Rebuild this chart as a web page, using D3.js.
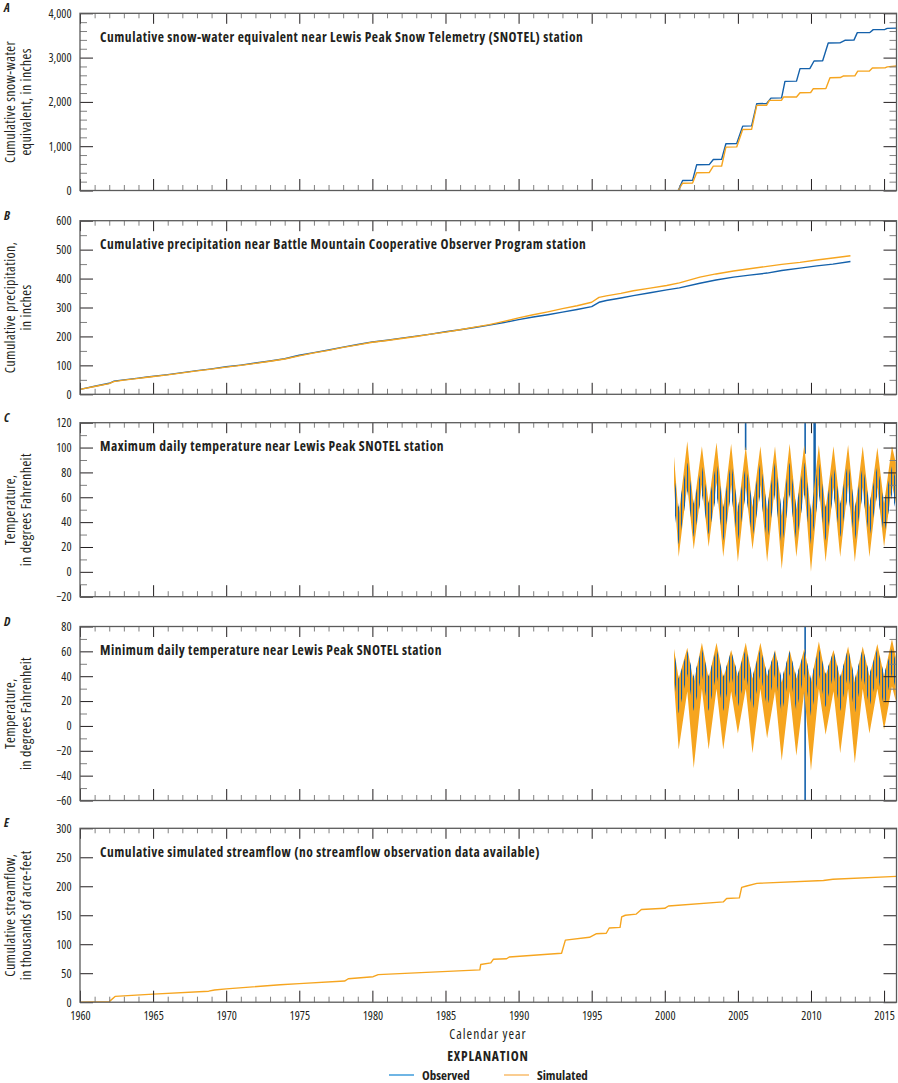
<!DOCTYPE html>
<html>
<head>
<meta charset="utf-8">
<script src="https://cdn.jsdelivr.net/npm/d3@7/dist/d3.min.js"></script>
<style>
  body { margin: 0; background: #fff; }
  svg text { font-family: "Open Sans", "DejaVu Sans Condensed", sans-serif; font-stretch: 75%; fill: #231f20; }
</style>
</head>
<body>
<svg id="chart" width="898" height="1083"></svg>
<script>
// ---- data ----
// x axis: calendar year
const yearDomain = [1960, 2015.85];
const yearLabels = d3.range(1960, 2016, 5);

// A: cumulative SWE, inches  [year, value]
const sweObserved = [[2000.92,0],[2001.22,226],[2001.9,230],[2002.18,580],[2003.04,585],[2003.32,700],[2003.89,705],
  [2004.18,1055],[2004.92,1060],[2005.33,1453],[2005.94,1458],[2006.29,1959],[2006.97,1965],[2007.26,2086],[2007.99,2090],
  [2008.22,2463],[2009.01,2468],[2009.25,2750],[2009.93,2755],[2010.21,2923],[2010.8,2928],[2011.18,3329],[2011.98,3333],
  [2012.32,3390],[2012.94,3395],[2013.17,3563],[2014.03,3568],[2014.26,3631],[2015.06,3635],[2015.22,3660],[2015.85,3665]];
const sweSimulated = [[2000.92,0],[2001.22,165],[2001.9,168],[2002.18,400],[2003.04,405],[2003.32,550],[2003.89,553],
  [2004.18,980],[2004.92,984],[2005.33,1378],[2005.94,1382],[2006.29,1921],[2006.97,1925],[2007.15,2034],[2007.99,2038],
  [2008.12,2109],[2009.01,2112],[2009.25,2208],[2009.98,2212],[2010.16,2298],[2011.02,2302],[2011.3,2546],[2012.0,2550],
  [2012.2,2583],[2013.0,2587],[2013.2,2695],[2014.0,2699],[2014.2,2764],[2015.06,2767],[2015.22,2790],[2015.85,2810]];

// B: cumulative precipitation, inches
const precipObserved = [[1960,17],[1961,28],[1962,38],[1962.3,45],[1963,50],[1964,56],[1964.6,60],[1966,68],[1967,75],
  [1968,82],[1969,88],[1970,95],[1971,101],[1972,108],[1973,115],[1974,123],[1975,135],[1976,144],[1977,153],[1978,163],
  [1979,172],[1980,181],[1981,187],[1982,194],[1983,201],[1984,208],[1985,216],[1986,223],[1987,231],[1988,239],[1989,248],
  [1990,258],[1991,267],[1992,275],[1993,284],[1994,293],[1995,303],[1995.5,318],[1996,324],[1997,333],[1997.85,341],
  [1999,351],[2000.13,361],[2001,368],[2002.4,384],[2003.5,395],[2004.7,405],[2005.8,412],[2007,419],[2008,428],
  [2009.25,436],[2010.4,444],[2011.5,450],[2012.7,459]];
const precipSimulated = [[1960,17],[1961,27],[1962,37],[1962.3,44],[1963,49],[1964,55],[1964.6,59],[1966,67],[1967,74],
  [1968,81],[1969,87],[1970,94],[1971,100],[1972,107],[1973,114],[1974,122],[1975,133],[1976,143],[1977,152],[1978,162],
  [1979,171],[1980,180],[1981,186],[1982,193],[1983,200],[1984,208],[1985,215],[1986,223],[1987,232],[1988,241],[1989,252],
  [1990,264],[1991,275],[1992,285],[1993,296],[1994,306],[1995,318],[1995.5,335],[1996,340],[1997,349],[1997.85,358],
  [1999,367],[2000.13,376],[2001,385],[2002.4,405],[2003.5,416],[2004.7,426],[2005.8,434],[2007,442],[2008,449],
  [2009.25,456],[2010.4,464],[2011.5,471],[2012.7,479]];

// C: maximum daily temperature, deg F  [year, low, high] daily range envelope
const tmaxSimulated = [[2000.63,70,93],[2000.95,12,45],[2001.54,70,105],[2001.98,18,52],[2002.54,70,101],[2003.0,20,55],
  [2003.54,72,104],[2004.0,12,50],[2004.54,70,103],[2005.0,8,48],[2005.54,68,101],[2006.0,18,52],[2006.54,70,101],
  [2007.0,8,50],[2007.54,70,101],[2008.0,2,45],[2008.54,70,103],[2009.0,12,50],[2009.54,70,102],[2010.0,0,45],
  [2010.54,70,102],[2011.0,8,50],[2011.54,68,101],[2012.0,12,52],[2012.54,70,102],[2013.0,8,48],[2013.54,68,101],
  [2014.0,12,52],[2014.54,68,100],[2015.0,20,55],[2015.54,70,101],[2015.8,55,88]];
const tmaxObserved = [[2000.63,52,78],[2000.95,22,52],[2001.54,65,88],[2001.98,28,55],[2002.54,62,85],[2003.0,30,55],
  [2003.54,62,88],[2004.0,25,52],[2004.54,62,88],[2005.0,25,52],[2005.54,62,85],[2006.0,28,55],[2006.54,62,88],
  [2007.0,25,52],[2007.54,62,88],[2008.0,20,50],[2008.54,62,88],[2009.0,25,52],[2009.54,62,88],[2010.0,22,50],
  [2010.54,62,88],[2011.0,25,52],[2011.54,62,85],[2012.0,28,55],[2012.54,62,88],[2013.0,25,52],[2013.54,62,85],
  [2014.0,28,55],[2014.54,62,85],[2015.0,30,55],[2015.54,62,85],[2015.8,50,75]];
const tmaxObservedSpikes = [[2005.53,98,130],[2009.6,95,130],[2010.22,60,130],[2010.28,70,130]];

// D: minimum daily temperature, deg F
const tminSimulated = [[2000.63,35,62],[2000.95,-19,38],[2001.54,28,63],[2001.98,-34,35],[2002.54,30,67],[2003.0,-19,38],
  [2003.54,30,67],[2004.0,-19,38],[2004.54,28,61],[2005.0,-6,40],[2005.54,30,67],[2006.0,-22,38],[2006.54,30,67],
  [2007.0,-10,40],[2007.54,28,61],[2008.0,-28,35],[2008.54,28,61],[2009.0,-24,38],[2009.54,28,62],[2010.0,-36,35],
  [2010.54,30,68],[2011.0,-7,40],[2011.54,28,61],[2012.0,-22,38],[2012.54,30,64],[2013.0,-30,35],[2013.54,30,64],
  [2014.0,-6,40],[2014.54,30,66],[2015.0,-3,40],[2015.54,32,70],[2015.8,20,55]];
const tminObserved = [[2000.63,40,60],[2000.95,10,38],[2001.54,42,60],[2001.98,12,40],[2002.54,42,62],[2003.0,12,40],
  [2003.54,42,62],[2004.0,12,40],[2004.54,42,60],[2005.0,15,42],[2005.54,42,62],[2006.0,12,40],[2006.54,42,62],
  [2007.0,15,42],[2007.54,42,60],[2008.0,10,38],[2008.54,42,60],[2009.0,12,40],[2009.54,42,60],[2010.0,8,38],
  [2010.54,42,62],[2011.0,15,42],[2011.54,42,60],[2012.0,12,40],[2012.54,42,62],[2013.0,10,38],[2013.54,42,62],
  [2014.0,15,42],[2014.54,42,62],[2015.0,15,42],[2015.54,42,62],[2015.8,30,52]];
const tminObservedSpikes = [[2009.6,-70,90]];

// E: cumulative simulated streamflow, thousands of acre-feet
const flowSimulated = [[1960.0,0],[1962.0,1],[1962.4,10],[1965.0,14],[1968.8,19],[1969.2,21],[1970.0,23],[1973.7,30],
  [1975.0,32],[1978.1,36.5],[1978.35,40.5],[1980.05,44],[1980.4,47.5],[1987.35,55.7],[1987.41,65],[1988.1,67.8],
  [1988.27,74],[1989.18,75],[1989.36,78],[1992.94,84.5],[1993.2,107],[1994.85,112],[1995.3,118],[1996.0,119],
  [1996.2,128],[1996.94,129],[1997.05,147],[1997.3,150],[1998.05,152],[1998.4,160],[2000.0,162],[2000.25,166],
  [2004.0,173],[2004.23,179],[2005.1,180],[2005.26,198],[2005.6,200.5],[2006.3,205],[2010.85,210],[2011.5,212],
  [2015.85,217]];

const seriesNames = ["Observed", "Simulated"];

// ---- layout ----
const obsColor = "#1461ab", simColor = "#f6a51f";
const legendColors = ["#3f9cdb", "#f8bd6c"];
const svg = d3.select("#chart");
const x = d3.scaleLinear().domain(yearDomain).range([80, 896.5]);

const defs = svg.append("defs");
defs.append("pattern").attr("id", "obsStripe")
  .attr("patternUnits", "userSpaceOnUse").attr("width", 3).attr("height", 4)
  .append("rect").attr("width", 1.1).attr("height", 4).attr("fill", obsColor);

const panels = [
  {id: "A", top: 13.3, bottom: 190.5, domain: [0, 4000], major: 1000, minor: 200, fmt: d3.format(","),
   title: "Cumulative snow-water equivalent near Lewis Peak Snow Telemetry (SNOTEL) station",
   label: ["Cumulative snow-water", "equivalent, in inches"]},
  {id: "B", top: 220.7, bottom: 394.3, domain: [0, 600], major: 100, minor: 50, fmt: d3.format("d"),
   title: "Cumulative precipitation near Battle Mountain Cooperative Observer Program station",
   label: ["Cumulative precipitation,", "in inches"]},
  {id: "C", top: 422.7, bottom: 596.7, domain: [-20, 120], major: 20, minor: 10, fmt: d => d < 0 ? "\u2212" + (-d) : d,
   title: "Maximum daily temperature near Lewis Peak SNOTEL station",
   label: ["Temperature,", "in degrees Fahrenheit"]},
  {id: "D", top: 626.5, bottom: 800.5, domain: [-60, 80], major: 20, minor: 10, fmt: d => d < 0 ? "\u2212" + (-d) : d,
   title: "Minimum daily temperature near Lewis Peak SNOTEL station",
   label: ["Temperature,", "in degrees Fahrenheit"]},
  {id: "E", top: 828.3, bottom: 1002.2, domain: [0, 300], major: 50, minor: null, fmt: d3.format("d"),
   title: "Cumulative simulated streamflow (no streamflow observation data available)",
   label: ["Cumulative streamflow,", "in thousands of acre-feet"]}
];

panels.forEach((p, i) => {
  p.y = d3.scaleLinear().domain(p.domain).range([p.bottom, p.top]);
  const g = svg.append("g").attr("class", "panel-" + p.id);
  const x0 = x.range()[0], x1 = x.range()[1];

  // clip for the data
  defs.append("clipPath").attr("id", "clip" + p.id)
    .append("rect").attr("x", x0).attr("y", p.top).attr("width", x1 - x0).attr("height", p.bottom - p.top);
  p.plot = g.append("g").attr("clip-path", "url(#clip" + p.id + ")");

  const majors = d3.range(p.domain[0], p.domain[1] + 0.001, p.major);
  const minors = p.minor ? d3.range(p.domain[0], p.domain[1] + 0.001, p.minor).filter(v => v % p.major !== 0) : [];
  const yearsMajor = yearLabels;
  const yearsMinor = d3.range(1961, 2016).filter(v => v % 5 !== 0);

  // y axes (inward ticks)
  g.append("g").attr("transform", `translate(${x0},0)`)
    .call(d3.axisLeft(p.y).tickValues(majors).tickSize(-13).tickPadding(8.5).tickFormat(p.fmt));
  g.append("g").attr("transform", `translate(${x0},0)`)
    .call(d3.axisLeft(p.y).tickValues(minors).tickSize(-7).tickFormat(""))
    .attr("class", "minor");
  g.append("g").attr("transform", `translate(${x1},0)`)
    .call(d3.axisRight(p.y).tickValues(majors).tickSize(-13).tickFormat(""));
  g.append("g").attr("transform", `translate(${x1},0)`)
    .call(d3.axisRight(p.y).tickValues(minors).tickSize(-7).tickFormat(""))
    .attr("class", "minor");

  // x axes (top and bottom)
  g.append("g").attr("transform", `translate(0,${p.top})`)
    .call(d3.axisTop(x).tickValues(yearsMajor).tickSize(-10.5).tickFormat(""));
  g.append("g").attr("transform", `translate(0,${p.top})`)
    .call(d3.axisTop(x).tickValues(yearsMinor).tickSize(-5).tickFormat(""))
    .attr("class", "minor");
  g.append("g").attr("transform", `translate(0,${p.bottom})`)
    .call(d3.axisBottom(x).tickValues(yearsMajor).tickSize(-11.5).tickPadding(9)
      .tickFormat(p.id === "E" ? d3.format("d") : ""));
  g.append("g").attr("transform", `translate(0,${p.bottom})`)
    .call(d3.axisBottom(x).tickValues(yearsMinor).tickSize(-5.5).tickFormat(""))
    .attr("class", "minor");

  g.selectAll(".domain").remove();
  g.selectAll(".tick line").attr("stroke", "#231f20").attr("stroke-width", 1);
  g.selectAll(".minor .tick line").attr("stroke", "#808080");
  g.selectAll(".tick text").attr("font-size", 12).attr("fill", "#231f20")
    .attr("font-family", null).style("font-family", null);

  // frame
  g.append("rect").attr("x", x0).attr("y", p.top).attr("width", x1 - x0).attr("height", p.bottom - p.top)
    .attr("fill", "none").attr("stroke", "#5b5b5b").attr("stroke-width", 1.3);

  // panel letter, title, y label
  g.append("text").attr("x", 4).attr("y", p.top - 1).attr("font-size", 12.5)
    .attr("font-weight", "bold").attr("font-style", "italic").text(p.id);
  g.append("text").attr("x", 100).attr("y", p.top + 28.5).attr("font-size", 13.5)
    .attr("letter-spacing", 0.5).attr("font-weight", "bold").text(p.title);
  const cy = (p.top + p.bottom) / 2;
  p.label.forEach((t, k) => {
    g.append("text").attr("transform", `translate(${15 + k * 16},${cy}) rotate(-90)`)
      .attr("text-anchor", "middle").attr("font-size", 14).attr("letter-spacing", 0.4).text(t);
  });
});

const [pA, pB, pC, pD, pE] = panels;

function drawLine(p, data, color) {
  const line = d3.line().x(d => x(d[0])).y(d => p.y(d[1]));
  p.plot.append("path").datum(data).attr("d", line)
    .attr("fill", "none").attr("stroke", color).attr("stroke-width", 1.4).attr("stroke-linejoin", "round");
}
function drawBand(p, data, fill) {
  const area = d3.area().x(d => x(d[0])).y0(d => p.y(d[1])).y1(d => p.y(d[2]));
  p.plot.append("path").datum(data).attr("d", area).attr("fill", fill).attr("stroke", "none");
}
function drawSpikes(p, data, color) {
  p.plot.selectAll(null).data(data).enter().append("line")
    .attr("x1", d => x(d[0])).attr("x2", d => x(d[0]))
    .attr("y1", d => p.y(d[1])).attr("y2", d => p.y(d[2]))
    .attr("stroke", color).attr("stroke-width", 1.6);
}

drawLine(pA, sweObserved, obsColor);
drawLine(pA, sweSimulated, simColor);
drawLine(pB, precipObserved, obsColor);
drawLine(pB, precipSimulated, simColor);

drawSpikes(pC, tmaxObservedSpikes, obsColor);
drawBand(pC, tmaxSimulated, simColor);
drawBand(pC, tmaxObserved, "url(#obsStripe)");

drawSpikes(pD, tminObservedSpikes, obsColor);
drawBand(pD, tminSimulated, simColor);
drawBand(pD, tminObserved, "url(#obsStripe)");

drawLine(pE, flowSimulated, simColor);

// x axis title
svg.append("text").attr("x", 488).attr("y", 1038.5).attr("text-anchor", "middle")
  .attr("font-size", 13.5).attr("letter-spacing", 1).text("Calendar year");

// legend
svg.append("text").attr("x", 488).attr("y", 1060.5).attr("text-anchor", "middle")
  .attr("font-size", 13.5).attr("letter-spacing", 0.8).attr("font-weight", "bold").text("EXPLANATION");
const legend = svg.append("g").selectAll("g").data(seriesNames).enter().append("g")
  .attr("transform", (d, i) => `translate(${389 + i * 115},1075)`);
legend.append("line").attr("x1", 0).attr("x2", 25).attr("y1", 0).attr("y2", 0)
  .attr("stroke", (d, i) => legendColors[i]).attr("stroke-width", 1.5);
legend.append("text").attr("x", 33).attr("y", 5).attr("font-size", 13).attr("font-weight", "bold")
  .text(d => d);
</script>
</body>
</html>
